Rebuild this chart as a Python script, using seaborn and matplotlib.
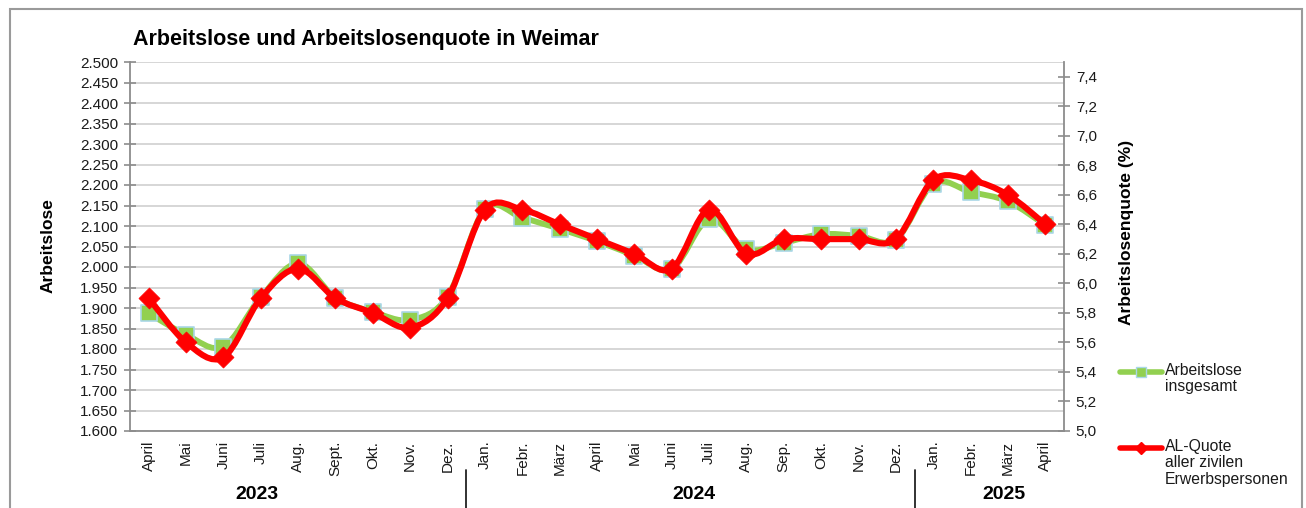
import numpy as np
import pandas as pd
import matplotlib
matplotlib.use("Agg")
import matplotlib.pyplot as plt
import seaborn as sns
from matplotlib.path import Path
from matplotlib.patches import PathPatch, Rectangle
from matplotlib.lines import Line2D
from matplotlib.ticker import FuncFormatter
import matplotlib.transforms as mtransforms

# ---------------- data ----------------
months = ["April", "Mai", "Juni", "Juli", "Aug.", "Sept.", "Okt.", "Nov.", "Dez.",
          "Jan.", "Febr.", "März", "April", "Mai", "Juni", "Juli", "Aug.", "Sep.", "Okt.", "Nov.", "Dez.",
          "Jan.", "Febr.", "März", "April"]
years = ["2023", "2024", "2025"]
arbeitslose = [1887, 1835, 1806, 1926, 2009, 1925, 1891, 1871, 1928,
               2141, 2120, 2093, 2063, 2028, 1995, 2117, 2043, 2059, 2080, 2076, 2067,
               2203, 2183, 2160, 2102]
quote = [5.9, 5.6, 5.5, 5.9, 6.1, 5.9, 5.8, 5.7, 5.9,
         6.5, 6.5, 6.4, 6.3, 6.2, 6.1, 6.5, 6.2, 6.3, 6.3, 6.3, 6.3,
         6.7, 6.7, 6.6, 6.4]

df = pd.DataFrame({"idx": np.arange(len(months)), "Arbeitslose": arbeitslose, "Quote": quote})

GREEN = "#92D050"
RED = "#FF0000"
EDGE_BLUE = "#A9D7E6"
GRID = "#D3D3D3"
SPINE = "#8C8C8C"
TXT = "#1a1a1a"

sns.set_theme(style="white")
plt.rcParams["font.family"] = ["Liberation Sans", "DejaVu Sans"]

W, H = 1306, 508
fig = plt.figure(figsize=(W / 100, H / 100), dpi=100)
fig.patch.set_facecolor("white")

x0, x1, y0, y1 = 130, 1064, 62, 431
ax = fig.add_axes([x0 / W, 1 - y1 / H, (x1 - x0) / W, (y1 - y0) / H])
ax2 = ax.twinx()

ax.set_xlim(-0.5, len(months) - 0.5)
ax.set_ylim(1600, 2500)
ax2.set_ylim(5.0, 7.5)


def smooth_path(xs, ys):
    pts = np.column_stack([xs, ys]).astype(float)
    n = len(pts)
    verts = [pts[0]]
    codes = [Path.MOVETO]
    for i in range(n - 1):
        p_prev = pts[i - 1] if i > 0 else pts[i]
        p0 = pts[i]
        p1 = pts[i + 1]
        p_next = pts[i + 2] if i + 2 < n else pts[i + 1]
        c1 = p0 + (p1 - p_prev) / 6.0
        c2 = p1 - (p_next - p0) / 6.0
        verts += [c1, c2, p1]
        codes += [Path.CURVE4] * 3
    return Path(verts, codes)


# green series (left axis)
ax.add_patch(PathPatch(smooth_path(df["idx"], df["Arbeitslose"]), fill=False,
                       edgecolor=GREEN, lw=4.2, capstyle="round", joinstyle="round", zorder=3))
sns.scatterplot(data=df, x="idx", y="Arbeitslose", ax=ax, marker="s", s=125,
                color=GREEN, edgecolor=EDGE_BLUE, linewidth=1.2, zorder=4, legend=False)

# red series (right axis)
ax2.add_patch(PathPatch(smooth_path(df["idx"], df["Quote"]), fill=False,
                        edgecolor=RED, lw=4.4, capstyle="round", joinstyle="round", zorder=3))
sns.scatterplot(data=df, x="idx", y="Quote", ax=ax2, marker="D", s=115,
                color=RED, edgecolor=RED, linewidth=0.5, zorder=4, legend=False)

# grid
ax.set_yticks(np.arange(1600, 2501, 50))
ax.yaxis.grid(True, color=GRID, lw=1.3)
ax.xaxis.grid(False)
ax.set_axisbelow(True)

fmt_left = FuncFormatter(lambda v, p: f"{int(round(v)):,}".replace(",", "."))
ax.yaxis.set_major_formatter(fmt_left)
ax2.set_yticks(np.arange(5.0, 7.41, 0.2))
ax2.yaxis.set_major_formatter(FuncFormatter(lambda v, p: f"{v:.1f}".replace(".", ",")))

# x ticks
ax.set_xticks(np.arange(len(months)))
ax.set_xticklabels(months, rotation=90, fontsize=11, color=TXT)
ax.set_xticks(np.arange(-0.5, len(months), 1.0), minor=True)
ax.tick_params(axis="x", which="major", length=0, pad=7)
ax.tick_params(axis="x", which="minor", length=7, width=1.2, color=SPINE, direction="out")

ax.tick_params(axis="y", which="major", length=9, width=1.2, color=SPINE, direction="inout",
               labelsize=11, labelcolor=TXT, pad=4, left=True)
ax2.tick_params(axis="y", which="major", length=9, width=1.2, color=SPINE, direction="inout",
                labelsize=11, labelcolor=TXT, pad=4, right=True)

for a in (ax, ax2):
    a.set_xlabel("")
    a.spines["top"].set_visible(False)
    for side in ("left", "right", "bottom"):
        a.spines[side].set_color(SPINE)
        a.spines[side].set_linewidth(1.3)
ax.spines["right"].set_visible(False)
ax2.spines["left"].set_visible(False)
ax2.spines["bottom"].set_visible(False)

ax.set_ylabel("Arbeitslose", fontsize=12.5, fontweight="bold", color="black")
ax2.set_ylabel("Arbeitslosenquote (%)", fontsize=12.5, fontweight="bold", color="black")
ax.yaxis.set_label_coords((56 - x0) / (x1 - x0), (y1 - 246) / (y1 - y0))
ax2.yaxis.set_label_coords((1119 - x0) / (x1 - x0), (y1 - 232) / (y1 - y0))

# title
fig.text(133 / W, 1 - 40 / H, "Arbeitslose und Arbeitslosenquote in Weimar",
         fontsize=15.5, fontweight="bold", ha="left", va="center", color="black")

# year labels and separators
trans = mtransforms.blended_transform_factory(ax.transData, ax.transAxes)
year_pos = [2.9, 14.6, 22.9]
for yp, yl in zip(year_pos, years):
    ax.text(yp, (y1 - 494) / (y1 - y0), yl, transform=trans, ha="center", va="center",
            fontsize=14, fontweight="bold", color="black")
for sep in (8.5, 20.5):
    ax.plot([sep, sep], [(y1 - 470) / (y1 - y0), (y1 - 512) / (y1 - y0)], transform=trans,
            color="#222222", lw=1.3, clip_on=False)


# legend (manual)
def legend_entry(ypix, color, marker, mfc, mec, ms, lines):
    fig.add_artist(Line2D([1120 / W, 1162 / W], [1 - ypix / H, 1 - ypix / H], color=color, lw=4,
                          transform=fig.transFigure))
    fig.add_artist(Line2D([1141 / W], [1 - ypix / H], marker=marker, markersize=ms,
                          markerfacecolor=mfc, markeredgecolor=mec, linestyle="",
                          transform=fig.transFigure))
    fig.text(1165 / W, 1 - (ypix - 9) / H, lines, fontsize=11.3, ha="left", va="top",
             color=TXT, linespacing=1.12)


legend_entry(372, GREEN, "s", GREEN, EDGE_BLUE, 7, "Arbeitslose\ninsgesamt")
legend_entry(448, RED, "D", RED, RED, 6, "AL-Quote\naller zivilen\nErwerbspersonen")

# outer frame
fig.add_artist(Rectangle((10 / W, -0.1), (1302 - 10) / W, 1 - 9 / H + 0.1, fill=False,
                         edgecolor="#9a9a9a", lw=1.5, transform=fig.transFigure))

fig.savefig("out.png", dpi=100, facecolor="white")
